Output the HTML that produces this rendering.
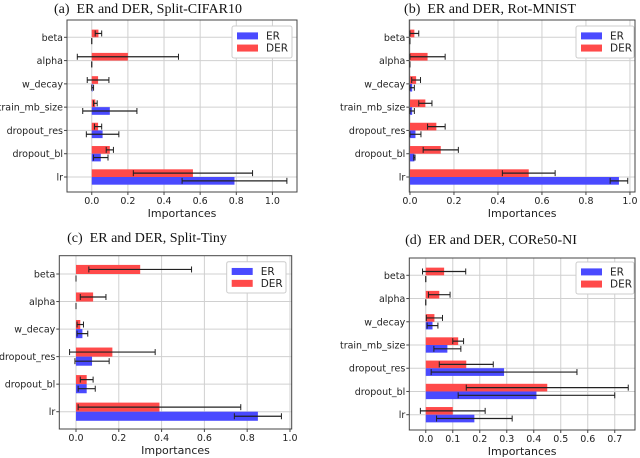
<!DOCTYPE html>
<html><head><meta charset="utf-8"><style>
body{margin:0;background:#fff;}
svg{display:block;}
</style></head><body>
<svg id="fig" width="640" height="458" xmlns="http://www.w3.org/2000/svg" font-family="DejaVu Sans, Liberation Sans, sans-serif"></svg>
<script>
// Panel (a) Split-CIFAR10
const catsA=["beta","alpha","w_decay","train_mb_size","dropout_res","dropout_bl","lr"];
const erA=[0,0,0.005,0.1,0.06,0.05,0.79];
const erErrA=[0,0,0.005,0.15,0.09,0.04,0.29];
const derA=[0.037,0.2,0.035,0.02,0.035,0.1,0.56];
const derErrA=[0.018,0.28,0.06,0.01,0.02,0.02,0.33];
const ticksA=[0,0.2,0.4,0.6,0.8,1.0];
// Panel (b) Rot-MNIST
const catsB=["beta","alpha","w_decay","train_mb_size","dropout_res","dropout_bl","lr"];
const erB=[0,0,0.01,0.01,0.025,0.02,0.95];
const erErrB=[0,0,0.01,0.01,0.025,0.003,0.04];
const derB=[0.02,0.08,0.028,0.07,0.12,0.14,0.54];
const derErrB=[0.02,0.08,0.02,0.03,0.04,0.08,0.12];
const ticksB=[0,0.2,0.4,0.6,0.8,1.0];
// Panel (c) Split-Tiny
const catsC=["beta","alpha","w_decay","dropout_res","dropout_bl","lr"];
const erC=[0,0,0.03,0.075,0.05,0.85];
const erErrC=[0,0,0.025,0.08,0.04,0.11];
const derC=[0.3,0.08,0.02,0.17,0.05,0.39];
const derErrC=[0.24,0.06,0.015,0.2,0.03,0.38];
const ticksC=[0,0.2,0.4,0.6,0.8,1.0];
// Panel (d) CORe50-NI
const catsD=["beta","alpha","w_decay","train_mb_size","dropout_res","dropout_bl","lr"];
const erD=[0,0,0.025,0.08,0.29,0.41,0.18];
const erErrD=[0,0,0.02,0.05,0.27,0.29,0.14];
const derD=[0.068,0.05,0.032,0.12,0.15,0.45,0.1];
const derErrD=[0.08,0.04,0.03,0.02,0.1,0.3,0.12];
const ticksD=[0,0.1,0.2,0.3,0.4,0.5,0.6,0.7];

const NS="http://www.w3.org/2000/svg";
const svg=document.getElementById('fig');
function mk(tag,attrs,parent,text){const e=document.createElementNS(NS,tag);for(const k in attrs)e.setAttribute(k,attrs[k]);if(text!==undefined)e.textContent=text;(parent||svg).appendChild(e);return e;}

function panel(cfg){
  const g=mk('g',{});
  
  
  const {x0,x1,y0,y1,xmin,xmax}=cfg;
  const xs=v=>x0+(v-xmin)/(xmax-xmin)*(x1-x0);
  const n=cfg.cats.length;
  const step=(cfg.yLast-cfg.yFirst)/(n-1);
  const ys=i=>cfg.yFirst+i*step;
  const bh=step*0.33;
  cfg.ticks.forEach(t=>{mk('line',{x1:xs(t),x2:xs(t),y1:y0,y2:y1,stroke:'#d0d0d0','stroke-width':1},g);});
  cfg.cats.forEach((c,i)=>{mk('line',{x1:x0,x2:x1,y1:ys(i),y2:ys(i),stroke:'#d0d0d0','stroke-width':1},g);});
  cfg.cats.forEach((c,i)=>{
    const y=ys(i);
    const b0=xs(0);
    const rd=mk('rect',{x:Math.min(b0,xs(cfg.der[i])),y:y-bh,width:Math.abs(xs(cfg.der[i])-b0),height:bh,fill:'#ff4a4a'},g);
    
    
    const bl=mk('rect',{x:Math.min(b0,xs(cfg.er[i])),y:y,width:Math.abs(xs(cfg.er[i])-b0),height:bh,fill:'#4a4aff'},g);
    
    
    [[cfg.der[i],cfg.derErr[i],y-bh/2],[cfg.er[i],cfg.erErr[i],y+bh/2]].forEach(([v,e,yy])=>{
      const a=xs(v-e),b=xs(v+e),col='#222';
      mk('line',{x1:a,x2:b,y1:yy,y2:yy,stroke:col,'stroke-width':1.2},g);
      mk('line',{x1:a,x2:a,y1:yy-3,y2:yy+3,stroke:col,'stroke-width':1},g);
      mk('line',{x1:b,x2:b,y1:yy-3,y2:yy+3,stroke:col,'stroke-width':1},g);
    });
    const lab=mk('text',{x:x0-4,y:y+3.5,'text-anchor':'end','font-size':9.5,fill:'#222'},g,c);
    
    
    mk('line',{x1:x0-3,x2:x0,y1:y,y2:y,stroke:'#444'},g);
  });
  mk('rect',{x:x0,y:y0,width:x1-x0,height:y1-y0,fill:'none',stroke:'#444','stroke-width':1},g);
  cfg.ticks.forEach(t=>{
    mk('line',{x1:xs(t),x2:xs(t),y1:y1,y2:y1+3,stroke:'#444'},g);
    const tl=mk('text',{x:xs(t),y:y1+12,'text-anchor':'middle','font-size':9.5,fill:'#222'},g,t.toFixed(1));
    
    
  });
  const xl=mk('text',{x:(x0+x1)/2,y:y1+25,'text-anchor':'middle','font-size':11,fill:'#222'},g,'Importances');
  
  
  const tt=mk('text',{x:cfg.tx,y:cfg.ty,'text-anchor':'middle','font-size':14,'font-family':'Liberation Serif, serif',fill:'#111'},g,cfg.title);
  
  
  const L=cfg.leg;
  const lg=mk('g',{},g);
  
  
  mk('rect',{x:L[0],y:L[1],width:L[2]-L[0],height:L[3]-L[1],fill:'#fff',stroke:'#ccc',rx:2},lg);
  const lh=(L[3]-L[1]);
  mk('rect',{x:L[0]+5,y:L[1]+lh*0.2,width:21,height:7,fill:'#4a4aff'},lg);
  mk('text',{x:L[0]+34,y:L[1]+lh*0.2+7,'font-size':10.5,fill:'#222'},lg,'ER');
  mk('rect',{x:L[0]+5,y:L[1]+lh*0.58,width:21,height:7,fill:'#ff4a4a'},lg);
  mk('text',{x:L[0]+34,y:L[1]+lh*0.58+7,'font-size':10.5,fill:'#222'},lg,'DER');
}

panel({name:'panel-a-split-cifar10',title:'(a)\u00a0\u00a0ER and DER, Split-CIFAR10',tx:148,ty:13,x0:67,x1:297,y0:20,y1:192,xmin:-0.137,xmax:1.136,yFirst:37.3,yLast:177,cats:catsA,er:erA,erErr:erErrA,der:derA,derErr:derErrA,ticks:ticksA,leg:[232,26,292,58]});
panel({name:'panel-b-rot-mnist',title:'(b)\u00a0\u00a0ER and DER, Rot-MNIST',tx:490,ty:13,x0:409.3,x1:635,y0:20,y1:192,xmin:-0.003,xmax:1.023,yFirst:37.3,yLast:177,cats:catsB,er:erB,erErr:erErrB,der:derB,derErr:derErrB,ticks:ticksB,leg:[576,26,634,58]});
panel({name:'panel-c-split-tiny',title:'(c)\u00a0\u00a0ER and DER, Split-Tiny',tx:147,ty:242,x0:59.3,x1:291.7,y0:255.7,y1:429,xmin:-0.078,xmax:1.008,yFirst:274,yLast:411.7,cats:catsC,er:erC,erErr:erErrC,der:derC,derErr:derErrC,ticks:ticksC,leg:[226.7,261.7,286,293]});
panel({name:'panel-d-core50-ni',title:'(d)\u00a0\u00a0ER and DER, CORe50-NI',tx:491,ty:244,x0:409.3,x1:635,y0:258,y1:430,xmin:-0.061,xmax:0.775,yFirst:275.3,yLast:414.7,cats:catsD,er:erD,erErr:erErrD,der:derD,derErr:derErrD,ticks:ticksD,leg:[576,262,634,294]});
</script>
</body></html>
